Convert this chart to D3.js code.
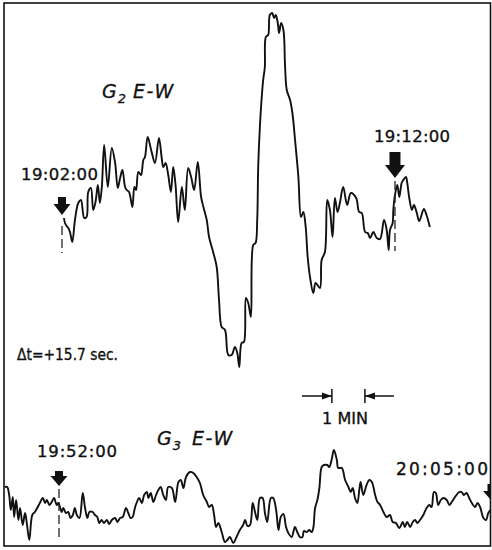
<!DOCTYPE html>
<html><head><meta charset="utf-8">
<script src="https://cdn.jsdelivr.net/npm/d3@7"></script>
<style>html,body{margin:0;padding:0;background:#fff}svg{display:block}</style>
</head><body><svg id="c" width="492" height="550"></svg>
<script>
// ---- G2 E-W record: minutes after 19:02:00, deflection (arbitrary units)
const g2Time = [0.03,0.06,0.11,0.16,0.21,0.28,0.36,0.46,0.54,0.64,0.71,0.76,0.84,0.91,0.98,1.05,1.11,1.17,1.24,1.35,1.47,1.57,1.65,1.72,1.79,1.87,1.92,1.99,2.09,2.15,2.20,2.27,2.35,2.42,2.47,2.55,2.67,2.77,2.89,2.97,3.02,3.09,3.17,3.25,3.32,3.39,3.47,3.58,3.67,3.77,3.86,3.95,4.06,4.16,4.23,4.33,4.40,4.53,4.63,4.70,4.78,4.88,4.98,5.08,5.18,5.25,5.31,5.38,5.45,5.51,5.58,5.66,5.73,5.80,5.85,5.88,5.93,5.98,6.03,6.08,6.11,6.18,6.23,6.30,6.36,6.41,6.47,6.51,6.57,6.64,6.69,6.74,6.84,6.91,6.99,7.09,7.17,7.24,7.31,7.37,7.44,7.54,7.61,7.74,7.79,7.89,7.96,8.04,8.12,8.19,8.27,8.34,8.44,8.56,8.67,8.83,8.92,9.00,9.10,9.18,9.25,9.35,9.45,9.55,9.67,9.75,9.81,9.85,9.93,9.95,10.00,10.07,10.13,10.20,10.25,10.33,10.37,10.43,10.51,10.57,10.65,10.73,10.87,10.95,11.05];
const g2Amp = [1.2,0.7,0.4,0.2,-0.2,-1.2,1.0,2.7,3.0,1.2,1.3,3.8,4.2,2.0,2.8,4.5,2.7,4.3,8.5,4.3,8.2,6.7,4.2,5.2,6.0,4.3,4.0,3.8,2.3,4.3,4.0,5.8,5.5,7.0,7.3,9.3,7.8,6.7,9.2,7.3,6.3,6.7,5.5,3.8,6.3,4.5,0.8,4.3,2.0,6.2,5.3,4.0,6.8,3.3,2.3,1.0,-0.7,-2.3,-3.7,-7.0,-9.7,-10.0,-12.5,-12.5,-11.7,-12.3,-13.7,-11.3,-11.2,-6.8,-7.3,-8.7,-1.5,-1.3,1.0,6.3,10.3,13.0,15.0,16.3,19.3,19.5,21.5,21.7,21.2,21.5,20.7,19.7,20.7,20.0,16.3,14.0,13.0,11.7,9.0,5.3,1.3,1.8,0.3,-2.7,-4.7,-6.3,-5.3,-5.8,-3.0,-2.2,3.0,2.0,-0.7,3.2,1.8,2.7,4.3,2.5,3.7,3.2,1.8,1.7,-0.2,-0.3,-0.8,-0.2,-0.8,-0.9,1.0,0.0,-2.0,0.0,0.7,2.0,3.5,4.5,3.3,4.7,5.0,5.3,4.7,3.2,2.0,2.5,1.8,0.9,2.1,1.5,0.3];

// ---- G3 E-W record: minutes after 19:52:00, deflection (arbitrary units)
const g3Time = [-1.64,-1.57,-1.51,-1.46,-1.40,-1.36,-1.30,-1.23,-1.18,-1.10,-1.03,-0.98,-0.90,-0.81,-0.73,-0.66,-0.58,-0.49,-0.42,-0.37,-0.29,-0.22,-0.15,-0.07,-0.02,0.03,0.08,0.13,0.21,0.28,0.35,0.42,0.48,0.54,0.62,0.72,0.79,0.86,0.92,1.02,1.09,1.16,1.22,1.29,1.36,1.45,1.52,1.60,1.70,1.77,1.85,1.93,2.03,2.10,2.17,2.23,2.30,2.35,2.43,2.51,2.58,2.66,2.71,2.78,2.86,2.94,3.01,3.08,3.16,3.24,3.31,3.42,3.52,3.62,3.69,3.77,3.85,3.97,4.07,4.17,4.27,4.37,4.48,4.55,4.63,4.70,4.76,4.83,4.93,5.03,5.10,5.18,5.28,5.38,5.48,5.58,5.64,5.71,5.79,5.87,5.94,6.01,6.09,6.17,6.24,6.31,6.42,6.49,6.58,6.65,6.72,6.80,6.88,6.95,7.05,7.15,7.22,7.30,7.38,7.42,7.51,7.58,7.66,7.71,7.76,7.83,7.89,7.96,8.03,8.13,8.19,8.26,8.33,8.42,8.46,8.57,8.67,8.77,8.84,8.90,8.97,9.04,9.10,9.14,9.22,9.32,9.40,9.48,9.58,9.65,9.73,9.83,9.93,10.03,10.11,10.21,10.31,10.42,10.48,10.55,10.64,10.72,10.79,10.86,10.94,11.04,11.14,11.22,11.29,11.36,11.42,11.49,11.57,11.65,11.75,11.83,11.90,12.00,12.13,12.20,12.27,12.35,12.43,12.51,12.61,12.68,12.76,12.86,12.94,13.01,13.08];
const g3Amp = [2.8,2.8,2.0,0.5,1.8,-0.2,1.5,-0.5,0.7,-1.0,0.2,-0.7,-2.5,0.0,0.3,0.7,1.2,1.7,1.2,1.5,1.0,1.3,1.7,1.0,1.2,0.8,0.3,0.7,0.2,0.3,-0.3,0.0,0.7,0.0,-0.3,2.2,0.7,-0.3,0.3,0.3,0.0,-0.2,-0.8,-0.5,-0.8,-0.5,-0.9,-0.5,-0.3,-0.7,-0.3,-0.2,0.7,0.2,-0.3,-0.2,0.7,1.2,1.7,1.2,2.0,2.3,1.7,2.2,1.3,2.0,2.5,2.8,2.0,1.5,2.8,2.7,1.3,3.3,3.5,2.7,3.8,4.3,4.2,3.8,3.2,2.0,1.3,0.8,1.0,0.0,-1.2,-0.8,-1.7,-2.7,-2.5,-2.2,-2.8,-2.2,-1.5,-1.0,-0.5,-1.1,-1.0,1.2,0.3,-0.5,1.7,1.7,0.2,-0.7,1.7,1.7,0.5,-1.5,-0.2,0.1,-1.2,-1.8,-2.2,-1.2,-1.7,-2.2,-2.2,-1.6,-1.7,-1.5,-1.7,-1.2,0.7,1.5,2.7,4.8,5.0,5.0,4.8,5.5,6.5,5.5,4.7,4.7,3.5,2.8,2.3,2.7,1.7,1.2,2.5,3.3,2.0,3.0,3.5,3.3,2.0,1.3,1.0,0.3,-0.2,0.0,-0.7,-0.8,-1.3,-0.7,-1.2,-0.7,-1.2,-0.7,-0.5,-0.8,-0.5,0.0,0.7,1.0,0.8,2.3,2.2,1.0,1.5,1.7,1.5,1.0,1.3,1.8,2.3,2.3,2.0,2.2,1.7,1.2,0.8,1.2,0.8,-0.3,-0.5,0.2,0.5];

// ---- time marks and annotations
const g2MarkTimes = [0, 10];
const g2MarkLabels = ["19:02:00", "19:12:00"];
const g3MarkTimes = [0, 13];
const g3MarkLabels = ["19:52:00", "20:05:00"];
const g2Title = ["G", "2", "E-W"];
const g3Title = ["G", "3", "E-W"];
const deltaLabel = "\u0394t=+15.7 sec.";
const scaleBarStart = 8.27;   // minutes after 19:52:00
const scaleBarMinutes = 1;
const scaleBarLabel = "1 MIN";

const svg = d3.select("#c");
const W = 492, H = 550;
const FONT = "'DejaVu Sans', sans-serif";

// scales
const xU = d3.scaleLinear().domain([-1.8, 12.85]).range([3.24, 489.6]);
const yU = d3.scaleLinear().domain([-15, 22]).range([380, 10]);
const xL = d3.scaleLinear().domain([-1.7, 13.1]).range([2.9, 491.3]);
const yL = d3.scaleLinear().domain([-4, 7]).range([555, 445]);

svg.append("rect").attr("width", W).attr("height", H).attr("fill", "#fff");

// frame
svg.append("defs").append("clipPath").attr("id", "fr")
  .append("rect").attr("x", 4).attr("y", 3).attr("width", 486.5).attr("height", 543);
svg.append("rect").attr("x", 4).attr("y", 3).attr("width", 486.5).attr("height", 543)
  .attr("fill", "none").attr("stroke", "#111").attr("stroke-width", 1.6);

const g2 = d3.zip(g2Time, g2Amp);
const g3 = d3.zip(g3Time, g3Amp);

const lineU = d3.line().x(d => xU(d[0])).y(d => yU(d[1])).curve(d3.curveCatmullRom.alpha(0.5));
const lineL = d3.line().x(d => xL(d[0])).y(d => yL(d[1])).curve(d3.curveCatmullRom.alpha(0.5));

const plot = svg.append("g").attr("clip-path", "url(#fr)");
plot.append("path").attr("d", lineU(g2)).attr("fill", "none").attr("stroke", "#111")
  .attr("stroke-width", 1.9).attr("stroke-linejoin", "round");
plot.append("path").attr("d", lineL(g3)).attr("fill", "none").attr("stroke", "#111")
  .attr("stroke-width", 1.9).attr("stroke-linejoin", "round");

// arrows
function arrow(g, x, yTop, yTip, shaftW, headW, headH) {
  const yh = yTip - headH;
  g.append("path")
    .attr("d", `M${x - shaftW/2},${yTop}H${x + shaftW/2}V${yh}H${x + headW/2}L${x},${yTip}L${x - headW/2},${yh}H${x - shaftW/2}Z`)
    .attr("fill", "#111");
}
function dash(g, x, y1, y2) {
  g.append("line").attr("x1", x).attr("x2", x).attr("y1", y1).attr("y2", y2)
    .attr("stroke", "#222").attr("stroke-width", 1.3).attr("stroke-dasharray", "9,4");
}

const ann = svg.append("g");
// G2 marks
arrow(ann, xU(g2MarkTimes[0]) - 1, 197, 215, 8, 17, 11);
dash(ann, xU(g2MarkTimes[0]) - 1, 226, 253);
arrow(ann, xU(g2MarkTimes[1]), 152, 178, 11, 20, 13);
dash(ann, xU(g2MarkTimes[1]), 181, 251);
// G3 marks
arrow(ann, xL(g3MarkTimes[0]), 471, 486, 8, 17, 10);
dash(ann, xL(g3MarkTimes[0]), 489, 538);
arrow(plot, xL(g3MarkTimes[1]) + 4, 484, 501, 9, 18, 10);

function label(txt, x, y, size, anchor) {
  return svg.append("text").attr("x", x).attr("y", y).attr("font-family", FONT)
    .attr("font-size", size).attr("fill", "#111").attr("stroke", "#111").attr("stroke-width", 0.35)
    .attr("text-anchor", anchor || "start").text(txt);
}
label(g2MarkLabels[0], 21, 180, 16.5).attr("textLength", 77);
label(g2MarkLabels[1], 374, 142, 16.5).attr("textLength", 76);
label(g3MarkLabels[0], 37, 457, 16.5).attr("textLength", 80);
label(g3MarkLabels[1], 396, 475, 17).attr("textLength", 92);
label(deltaLabel, 17, 360, 16).attr("textLength", 101).attr("lengthAdjust", "spacingAndGlyphs");

function title(parts, x, y, xE) {
  const t = svg.append("text").attr("x", x).attr("y", y).attr("font-family", FONT)
    .attr("font-size", 19).attr("font-style", "italic").attr("fill", "#111")
    .attr("stroke", "#111").attr("stroke-width", 0.3);
  t.append("tspan").text(parts[0]);
  t.append("tspan").attr("font-size", 13).attr("dy", 5).attr("dx", 1).text(parts[1]);
  t.append("tspan").attr("x", xE).attr("y", y).attr("letter-spacing", 1.5).text(parts[2]);
}
title(g2Title, 102, 98, 133);
title(g3Title, 157, 445, 192);

// 1 minute scale bar
const sb0 = xL(scaleBarStart), sb1 = xL(scaleBarStart + scaleBarMinutes);
const yb = 396;
ann.append("line").attr("x1", sb0).attr("x2", sb0).attr("y1", yb - 7).attr("y2", yb + 7).attr("stroke", "#111").attr("stroke-width", 1.5);
ann.append("line").attr("x1", sb1).attr("x2", sb1).attr("y1", yb - 7).attr("y2", yb + 7).attr("stroke", "#111").attr("stroke-width", 1.5);
ann.append("line").attr("x1", sb0 - 30).attr("x2", sb0).attr("y1", yb).attr("y2", yb).attr("stroke", "#111").attr("stroke-width", 1.5);
ann.append("line").attr("x1", sb1).attr("x2", sb1 + 29).attr("y1", yb).attr("y2", yb).attr("stroke", "#111").attr("stroke-width", 1.5);
ann.append("path").attr("d", `M${sb0},${yb}L${sb0 - 10},${yb - 3.5}L${sb0 - 10},${yb + 3.5}Z`).attr("fill", "#111");
ann.append("path").attr("d", `M${sb1},${yb}L${sb1 + 10},${yb - 3.5}L${sb1 + 10},${yb + 3.5}Z`).attr("fill", "#111");
label(scaleBarLabel, 322, 424, 16).attr("textLength", 46);
</script></body></html>
